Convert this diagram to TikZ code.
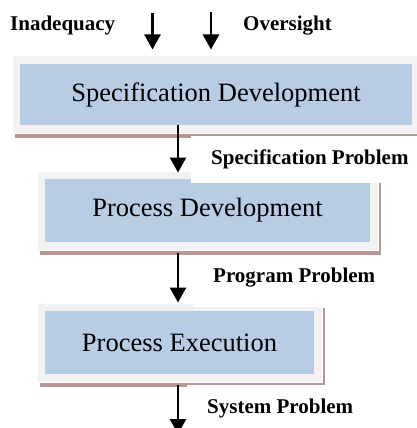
\documentclass[tikz,border=0pt]{standalone}
\usepackage{fontspec}
\setmainfont{Liberation Serif}
\usetikzlibrary{arrows.meta, calc, shadows}
\definecolor{myblue}{RGB}{184,204,228}
\definecolor{myframe}{RGB}{242,242,242}
\definecolor{myshadow}{RGB}{185,150,150}
\tikzset{
  stage/.style={rectangle, fill=myframe, draw=white, line width=1pt,
    inner sep=0pt, font=\fontsize{26.5}{30}\selectfont,
    drop shadow={shadow xshift=3pt, shadow yshift=-5pt, fill=myshadow, opacity=1},
    path picture={\fill[myblue]
      ([shift={(8pt,8pt)}]path picture bounding box.south west) rectangle
      ([shift={(-8pt,-8pt)}]path picture bounding box.north east);}},
  cause/.style={font=\fontsize{21}{25}\selectfont\bfseries, inner sep=0pt, anchor=west},
  tag/.style={cause, fill=white, inner xsep=20pt, minimum height=47pt},
  flow/.style={-{Triangle[width=16pt, length=15pt]}, line width=2.5pt, color=black}
}

\begin{document}
\begin{tikzpicture}[x=1pt, y=-1pt]
  \useasboundingbox (0,0) rectangle (417,428);

  % Development stages
  \node[stage, minimum width=408pt, minimum height=77pt] (spec) at (216,94.5) {Specification Development};
  \node[stage, minimum width=341pt, minimum height=79pt] (procdev) at (207.5,210.5) {Process Development};
  \node[stage, minimum width=285pt, minimum height=79pt] (procexe) at (179.5,342.5) {Process Execution};

  % Causes entering the first stage
  \node[cause] (inad) at (10,25) {Inadequacy};
  \node[cause] (over) at (243,26) {Oversight};
  \coordinate (in1) at (152.5,13);
  \coordinate (in2) at (211,12);
  \draw[flow] (in1) -- ($(in1 |- spec.north)+(0,6pt)$);
  \draw[flow] (in2) -- ($(in2 |- spec.north)+(0,6pt)$);

  % Flow down through the stages
  \coordinate (spine) at (178,0);
  \coordinate (out) at (178,434);
  \draw[flow] ($(spec.south -| spine)+(0,9pt)$) -- ($(procdev.north -| spine)+(0,-2pt)$);
  \draw[flow] ($(procdev.south -| spine)+(0,-2.5pt)$) -- (procexe.north -| spine);
  \draw[flow] ($(procexe.south -| spine)+(0,-2.5pt)$) -- (out);

  % Problems passed on
  \node[tag] (specprob) at (191,159.5) {Specification Problem};
  \node[tag, minimum height=52pt, text depth=12.5pt] (progprob) at (193,281) {Program Problem};
  \node[tag] (sysprob) at (187,408) {System Problem};
\end{tikzpicture}
\end{document}
